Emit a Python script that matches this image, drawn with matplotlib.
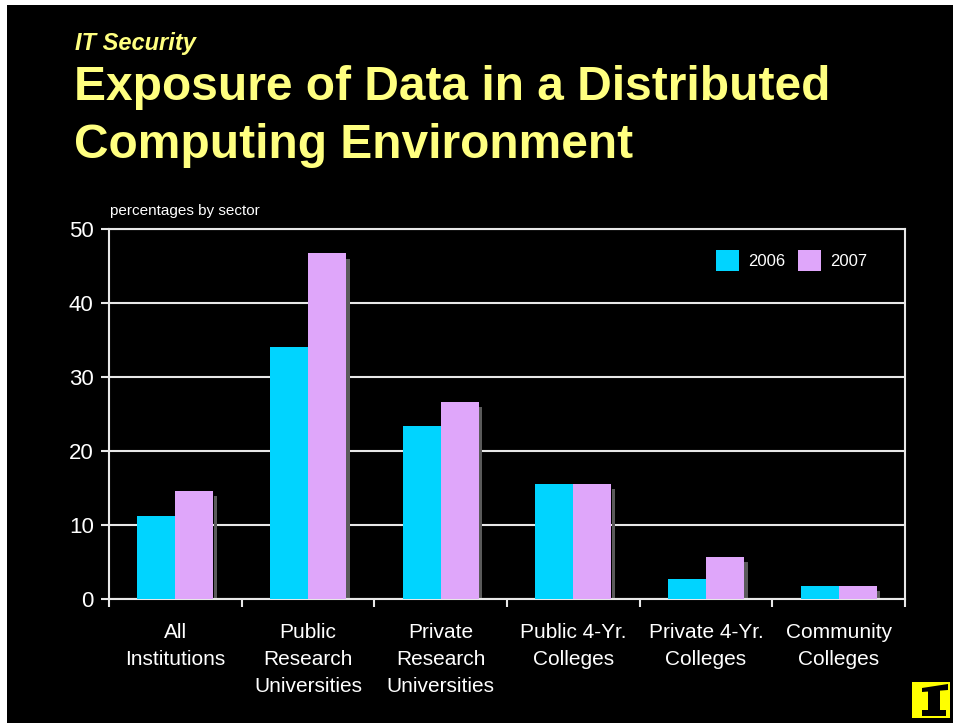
import numpy as np
import matplotlib
matplotlib.use("Agg")
import matplotlib.pyplot as plt
from matplotlib.patches import Rectangle, Polygon

# data
categories = ["All\nInstitutions", "Public\nResearch\nUniversities", "Private\nResearch\nUniversities",
              "Public 4-Yr.\nColleges", "Private 4-Yr.\nColleges", "Community\nColleges"]
vals_2006 = [11.2, 34.0, 23.4, 15.5, 2.7, 1.8]
vals_2007 = [14.6, 46.7, 26.6, 15.5, 5.7, 1.8]
years = ["2006", "2007"]
yticks = [0, 10, 20, 30, 40, 50]

font = 'Liberation Sans'
c06 = '#00D4FF'
c07 = '#DFA6FA'
yellow = '#FFFF80'

fig = plt.figure(figsize=(9.54, 7.23), dpi=100, facecolor='black')
# thin white border on top / left of the slide
fig.patches.append(Rectangle((0, 1 - 5/723), 1, 5/723, transform=fig.transFigure,
                             facecolor='white', edgecolor='none'))
fig.patches.append(Rectangle((0, 0), 7/954, 1, transform=fig.transFigure,
                             facecolor='white', edgecolor='none'))

fig.text(75/954, 1 - 50/723, "IT Security", color=yellow, fontsize=17, fontweight='bold',
         style='italic', family=font)
fig.text(74/954, 1 - 100/723, "Exposure of Data in a Distributed", color=yellow, fontsize=34.5,
         fontweight='bold', family=font)
fig.text(74/954, 1 - 158/723, "Computing Environment", color=yellow, fontsize=34.5,
         fontweight='bold', family=font)

ax = fig.add_axes([109/954, 1 - 599/723, (905 - 109)/954, (599 - 229)/723])
ax.set_facecolor('black')

x = np.arange(len(categories))
w = 0.286
# little drop shadow at the right of each group
ax.bar(x + w + 0.015, np.array(vals_2007) - 0.7, width=0.025, color='#5a5a5a', zorder=2)
b1 = ax.bar(x - w/2, vals_2006, width=w, color=c06, zorder=3, label=years[0])
b2 = ax.bar(x + w/2, vals_2007, width=w, color=c07, zorder=3, label=years[1])

ax.set_xlim(-0.5, len(categories) - 0.5)
ax.set_ylim(0, 50)
ax.set_yticks(yticks)
ax.set_yticklabels([str(t) for t in yticks], family=font, fontsize=16, color='white')
ax.yaxis.grid(True, color='#e8e8e8', linewidth=1.5, zorder=1)
ax.set_axisbelow(True)
ax.tick_params(axis='y', length=6, color='#e8e8e8', width=1.5, pad=5)

ax.set_xticks(x)
ax.set_xticklabels(categories, family=font, fontsize=15, color='white', linespacing=1.55)
ax.tick_params(axis='x', which='major', length=0, pad=17)
ax.set_xticks(np.arange(-0.5, len(categories)), minor=True)
ax.tick_params(axis='x', which='minor', length=6, color='#e8e8e8', width=1.5, direction='out')

for s in ['left', 'right', 'bottom', 'top']:
    ax.spines[s].set_color('#e8e8e8')
    ax.spines[s].set_linewidth(1.5)

fig.text(110/954, 1 - 215/723, "percentages by sector", color='white', fontsize=11, family=font)

leg = ax.legend(handles=[b1, b2], loc='upper right', bbox_to_anchor=(0.971, 0.985), ncol=2,
                frameon=False, handlelength=1.4, handleheight=1.6, handletextpad=0.5,
                columnspacing=0.8, prop={'family': font, 'size': 12})
for t in leg.get_texts():
    t.set_color('white')

# logo in the lower right corner
lx, ly = 912/954, 1 - 718/723
fig.patches.append(Rectangle((lx, ly), 38/954, 36/723, transform=fig.transFigure,
                             facecolor='#FFFF00', edgecolor='none', zorder=5))
fig.patches.append(Polygon([(922/954, 1 - 688/723), (948/954, 1 - 684/723), (948/954, 1 - 690/723),
                            (922/954, 1 - 692/723)], transform=fig.transFigure,
                           facecolor='black', zorder=6))
fig.patches.append(Rectangle((928/954, 1 - 710/723), 12/954, 20/723, transform=fig.transFigure,
                             facecolor='black', zorder=6))
fig.patches.append(Rectangle((922/954, 1 - 716/723), 24/954, 6/723, transform=fig.transFigure,
                             facecolor='black', zorder=6))

plt.savefig('out.png', dpi=100, facecolor=fig.get_facecolor())
